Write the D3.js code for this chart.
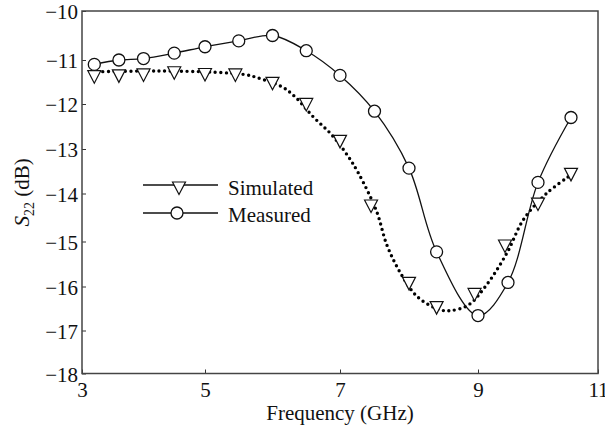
<!DOCTYPE html>
<html>
<head>
<meta charset="utf-8">
<script src="https://cdn.jsdelivr.net/npm/d3@7"></script>
<style>
  body { margin: 0; background: #fff; }
  svg text { font-family: "Liberation Serif", Tinos, "Times New Roman", "DejaVu Serif", serif; fill: #111; }
</style>
</head>
<body>
<div id="chart"></div>
<script>

// tick values
var xTicks = [3, 5, 7, 9, 11];
var yTicks = [-10, -11, -12, -13, -14, -15, -16, -17, -18];

// measured S22 (circles, solid line)
var measFreq = [3.2, 3.6, 4.0, 4.5, 5.0, 5.5, 6.0, 6.5, 7.0, 7.5, 8.0, 8.4, 9.0, 9.5, 10.0, 10.55];
var measS22  = [-11.10, -11.00, -10.97, -10.86, -10.73, -10.61, -10.50, -10.81, -11.35, -12.16, -13.43, -15.23, -16.66, -15.91, -13.75, -12.30];

// simulated S22 markers (triangles)
var simMarkFreq = [3.2, 3.6, 4.0, 4.5, 5.0, 5.45, 6.0, 6.5, 7.0, 7.45, 8.0, 8.4, 8.95, 9.45, 10.0, 10.55];
var simMarkS22  = [-11.38, -11.36, -11.34, -11.29, -11.33, -11.34, -11.53, -12.01, -12.83, -14.26, -15.93, -16.48, -16.18, -15.10, -14.22, -13.57];

// simulated S22 curve (dotted)
var simFreq = [3.16, 4.21, 5.17, 5.62, 5.81, 6.14, 6.33, 6.60, 6.88, 7.12, 7.27, 7.53, 7.68, 7.88, 8.12, 8.43, 8.59, 8.86, 9.14, 9.48, 9.76, 10.15, 10.51];
var simS22  = [-11.27, -11.25, -11.28, -11.34, -11.42, -11.61, -11.83, -12.28, -12.69, -13.17, -13.55, -14.37, -15.08, -15.71, -16.23, -16.52, -16.55, -16.42, -15.97, -15.26, -14.54, -13.99, -13.62];

var width = 605, height = 433;
var serif = '"Liberation Serif", Tinos, "Times New Roman", "DejaVu Serif", serif';

// the original axes are slightly uneven, so map tick by tick
var x = d3.scaleLinear().domain(xTicks).range([82, 205, 340, 478, 598]);
var y = d3.scaleLinear().domain(yTicks).range([11, 60, 104, 149, 193.5, 241.5, 286.5, 330.5, 373.5]);

var svg = d3.select('#chart')
  .append('svg')
  .attr('width', width)
  .attr('height', height)
  .attr('font-family', serif);

// axes with inward ticks
var xAxis = svg.append('g')
  .attr('transform', 'translate(0,' + y(-18) + ')')
  .call(d3.axisBottom(x).tickValues(xTicks).tickSizeInner(-4).tickSizeOuter(0).tickPadding(7));

var yAxis = svg.append('g')
  .attr('transform', 'translate(' + x(3) + ',0)')
  .call(d3.axisLeft(y).tickValues(yTicks).tickSizeInner(-4).tickSizeOuter(0).tickPadding(4));

[xAxis, yAxis].forEach(function(a){
  a.attr('font-family', serif).attr('font-size', 21);
  a.select('.domain').remove();
  a.selectAll('.tick line').attr('stroke', '#333').attr('stroke-width', 1);
  a.selectAll('.tick text').attr('fill', '#111');
});
yAxis.selectAll('.tick text').attr('dy', '0.36em');
xAxis.selectAll('.tick text').attr('dy', '0.78em');

// frame
svg.append('rect')
  .attr('x', x(3))
  .attr('y', y(-10))
  .attr('width', x(11) - x(3))
  .attr('height', y(-18) - y(-10))
  .attr('fill', 'none')
  .attr('stroke', '#444')
  .attr('stroke-width', 1.5);

var simData = simFreq.map(function(f, i){ return {f: f, v: simS22[i]}; });
var measData = measFreq.map(function(f, i){ return {f: f, v: measS22[i]}; });
var simMarks = simMarkFreq.map(function(f, i){ return {f: f, v: simMarkS22[i]}; });

var line = d3.line()
  .x(function(d){ return x(d.f); })
  .y(function(d){ return y(d.v); })
  .curve(d3.curveCatmullRom.alpha(0.5));

svg.append('path')
  .datum(simData)
  .attr('d', line)
  .attr('fill', 'none')
  .attr('stroke', '#000')
  .attr('stroke-width', 3.4)
  .attr('stroke-linecap', 'round')
  .attr('stroke-dasharray', '0 5.6');

svg.append('path')
  .datum(measData)
  .attr('d', line)
  .attr('fill', 'none')
  .attr('stroke', '#111')
  .attr('stroke-width', 1.3);

var tri = 'M-6.5,-6L6.5,-6L0,6.5Z';

svg.selectAll('path.sim')
  .data(simMarks)
  .enter()
    .append('path')
    .classed('sim', true)
    .attr('d', tri)
    .attr('transform', function(d){ return 'translate(' + x(d.f) + ',' + y(d.v) + ')'; })
    .attr('fill', '#fff')
    .attr('stroke', '#111')
    .attr('stroke-width', 1.2);

svg.selectAll('circle.meas')
  .data(measData)
  .enter()
    .append('circle')
    .classed('meas', true)
    .attr('cx', function(d){ return x(d.f); })
    .attr('cy', function(d){ return y(d.v); })
    .attr('r', 6)
    .attr('fill', '#fff')
    .attr('stroke', '#111')
    .attr('stroke-width', 1.3);

// legend
var legend = svg.append('g').attr('transform', 'translate(143,185)');

legend.append('line').attr('x1', 0).attr('x2', 75).attr('y1', 0).attr('y2', 0)
  .attr('stroke', '#111').attr('stroke-width', 1.3);
legend.append('path').attr('d', tri)
  .attr('transform', 'translate(36,3)')
  .attr('fill', '#fff').attr('stroke', '#111').attr('stroke-width', 1.2);
legend.append('text').attr('x', 85).attr('y', 10).attr('font-size', 21).text('Simulated');

legend.append('line').attr('x1', 0).attr('x2', 75).attr('y1', 28).attr('y2', 28)
  .attr('stroke', '#111').attr('stroke-width', 1.3);
legend.append('circle').attr('cx', 34).attr('cy', 28).attr('r', 6)
  .attr('fill', '#fff').attr('stroke', '#111').attr('stroke-width', 1.3);
legend.append('text').attr('x', 85).attr('y', 37).attr('font-size', 21).text('Measured');

// axis titles
svg.append('text')
  .attr('x', x(7))
  .attr('y', 420)
  .attr('text-anchor', 'middle')
  .attr('font-size', 21)
  .text('Frequency (GHz)');

var yTitle = svg.append('text')
  .attr('transform', 'translate(29,' + ((y(-10) + y(-18)) / 2) + ') rotate(-90)')
  .attr('text-anchor', 'middle')
  .attr('font-size', 21);
yTitle.append('tspan').attr('font-style', 'italic').text('S');
yTitle.append('tspan').attr('font-size', 14).attr('dy', 5).text('22');
yTitle.append('tspan').attr('dy', -5).text(' (dB)');

</script>
</body>
</html>
